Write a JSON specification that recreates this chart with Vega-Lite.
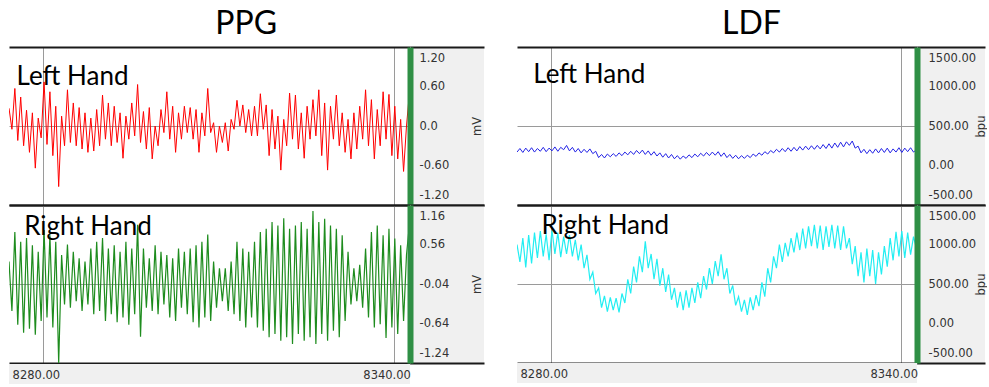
{
"$schema": "https://vega.github.io/schema/vega-lite/v6.json",
"background": "white",
"padding": {"left": 8, "top": 8, "right": 0, "bottom": 0},
"datasets": {
"sig": [
{"t":8274.2,"a":0.27,"b":0.3,"c":170,"d":1000},
{"t":8274.7,"a":-0.05,"b":-0.45,"c":215,"d":780},
{"t":8275.2,"a":0.57,"b":0.75,"c":165,"d":1080},
{"t":8275.7,"a":-0.22,"b":-0.66,"c":220,"d":710},
{"t":8276.2,"a":0.44,"b":0.6,"c":175,"d":1120},
{"t":8276.7,"a":-0.3,"b":-0.78,"c":225,"d":760},
{"t":8277.2,"a":0.24,"b":0.66,"c":170,"d":1150},
{"t":8277.7,"a":-0.4,"b":-0.72,"c":215,"d":830},
{"t":8278.2,"a":0.2,"b":0.55,"c":180,"d":1170},
{"t":8278.7,"a":-0.64,"b":-0.81,"c":230,"d":850},
{"t":8279.2,"a":0.12,"b":0.45,"c":175,"d":1130},
{"t":8279.7,"a":-0.18,"b":-0.6,"c":220,"d":800},
{"t":8280.2,"a":0.67,"b":0.78,"c":185,"d":1180},
{"t":8280.7,"a":-0.28,"b":-0.55,"c":235,"d":880},
{"t":8281.2,"a":0.52,"b":0.7,"c":180,"d":1150},
{"t":8281.7,"a":-0.45,"b":-0.7,"c":230,"d":840},
{"t":8282.2,"a":0.3,"b":0.6,"c":200,"d":1100},
{"t":8282.7,"a":-0.92,"b":-1.24,"c":254,"d":880},
{"t":8283.2,"a":0.15,"b":0.4,"c":185,"d":1120},
{"t":8283.7,"a":-0.3,"b":-0.35,"c":230,"d":850},
{"t":8284.2,"a":0.55,"b":0.56,"c":170,"d":1060},
{"t":8284.7,"a":-0.25,"b":-0.4,"c":215,"d":800},
{"t":8285.2,"a":0.35,"b":0.45,"c":160,"d":1000},
{"t":8285.7,"a":-0.3,"b":-0.3,"c":205,"d":700},
{"t":8286.2,"a":0.28,"b":0.35,"c":165,"d":870},
{"t":8286.7,"a":-0.35,"b":-0.45,"c":210,"d":560},
{"t":8287.2,"a":0.2,"b":0.3,"c":150,"d":650},
{"t":8287.7,"a":-0.4,"b":-0.35,"c":180,"d":380},
{"t":8288.2,"a":0.12,"b":0.5,"c":100,"d":450},
{"t":8288.7,"a":-0.38,"b":-0.5,"c":140,"d":200},
{"t":8289.2,"a":0.25,"b":0.6,"c":95,"d":350},
{"t":8289.7,"a":-0.3,"b":-0.45,"c":145,"d":150},
{"t":8290.2,"a":0.47,"b":0.66,"c":110,"d":330},
{"t":8290.7,"a":-0.2,"b":-0.6,"c":150,"d":170},
{"t":8291.2,"a":0.35,"b":0.5,"c":115,"d":320},
{"t":8291.7,"a":-0.3,"b":-0.5,"c":160,"d":140},
{"t":8292.2,"a":0.3,"b":0.55,"c":125,"d":380},
{"t":8292.7,"a":-0.25,"b":-0.62,"c":170,"d":260},
{"t":8293.2,"a":0.2,"b":0.45,"c":135,"d":560},
{"t":8293.7,"a":-0.49,"b":-0.55,"c":180,"d":380},
{"t":8294.2,"a":0.15,"b":0.6,"c":140,"d":720},
{"t":8294.7,"a":-0.2,"b":-0.66,"c":190,"d":520},
{"t":8295.2,"a":0.35,"b":0.5,"c":150,"d":850},
{"t":8295.7,"a":-0.15,"b":-0.5,"c":195,"d":650},
{"t":8296.2,"a":0.63,"b":0.86,"c":140,"d":1040},
{"t":8296.7,"a":-0.25,"b":-0.84,"c":185,"d":700},
{"t":8297.2,"a":0.22,"b":0.5,"c":130,"d":880},
{"t":8297.7,"a":-0.35,"b":-0.4,"c":175,"d":560},
{"t":8298.2,"a":0.28,"b":0.35,"c":120,"d":820},
{"t":8298.7,"a":-0.5,"b":-0.45,"c":160,"d":480},
{"t":8299.2,"a":0.0,"b":0.55,"c":105,"d":700},
{"t":8299.7,"a":-0.3,"b":-0.5,"c":150,"d":400},
{"t":8300.2,"a":0.25,"b":0.45,"c":95,"d":620},
{"t":8300.7,"a":-0.1,"b":-0.35,"c":140,"d":300},
{"t":8301.2,"a":0.52,"b":0.4,"c":85,"d":450},
{"t":8301.7,"a":-0.2,"b":-0.55,"c":125,"d":200},
{"t":8302.2,"a":0.3,"b":0.35,"c":80,"d":400},
{"t":8302.7,"a":-0.4,"b":-0.6,"c":120,"d":170},
{"t":8303.2,"a":0.2,"b":0.5,"c":90,"d":420},
{"t":8303.7,"a":-0.2,"b":-0.4,"c":135,"d":200},
{"t":8304.2,"a":0.3,"b":0.45,"c":100,"d":450},
{"t":8304.7,"a":-0.1,"b":-0.5,"c":145,"d":260},
{"t":8305.2,"a":0.28,"b":0.5,"c":110,"d":520},
{"t":8305.7,"a":-0.2,"b":-0.62,"c":155,"d":320},
{"t":8306.2,"a":0.25,"b":0.55,"c":120,"d":600},
{"t":8306.7,"a":-0.4,"b":-0.7,"c":165,"d":430},
{"t":8307.2,"a":0.2,"b":0.6,"c":125,"d":700},
{"t":8307.7,"a":-0.15,"b":-0.55,"c":170,"d":500},
{"t":8308.2,"a":0.57,"b":0.71,"c":130,"d":790},
{"t":8308.7,"a":-0.1,"b":-0.6,"c":175,"d":600},
{"t":8309.2,"a":0.05,"b":0.3,"c":115,"d":875},
{"t":8309.7,"a":-0.4,"b":-0.4,"c":160,"d":560},
{"t":8310.2,"a":0.0,"b":0.2,"c":100,"d":700},
{"t":8310.7,"a":-0.25,"b":-0.3,"c":140,"d":380},
{"t":8311.2,"a":0.05,"b":0.2,"c":90,"d":480},
{"t":8311.7,"a":-0.38,"b":-0.45,"c":130,"d":230},
{"t":8312.2,"a":0.1,"b":0.3,"c":85,"d":340},
{"t":8312.7,"a":-0.05,"b":-0.5,"c":125,"d":150},
{"t":8313.2,"a":0.39,"b":0.6,"c":90,"d":300},
{"t":8313.7,"a":0.0,"b":-0.6,"c":130,"d":110},
{"t":8314.2,"a":0.32,"b":0.5,"c":100,"d":330},
{"t":8314.7,"a":-0.1,"b":-0.7,"c":145,"d":170},
{"t":8315.2,"a":0.25,"b":0.45,"c":115,"d":360},
{"t":8315.7,"a":-0.15,"b":-0.55,"c":160,"d":220},
{"t":8316.2,"a":0.3,"b":0.6,"c":130,"d":520},
{"t":8316.7,"a":-0.15,"b":-0.7,"c":175,"d":340},
{"t":8317.2,"a":0.49,"b":0.75,"c":145,"d":700},
{"t":8317.7,"a":-0.05,"b":-0.75,"c":190,"d":520},
{"t":8318.2,"a":0.32,"b":0.8,"c":160,"d":850},
{"t":8318.7,"a":-0.45,"b":-0.85,"c":205,"d":700},
{"t":8319.2,"a":0.25,"b":0.9,"c":170,"d":1000},
{"t":8319.7,"a":-0.35,"b":-0.8,"c":215,"d":780},
{"t":8320.2,"a":0.15,"b":0.85,"c":175,"d":1020},
{"t":8320.7,"a":-0.67,"b":-0.9,"c":225,"d":850},
{"t":8321.2,"a":0.1,"b":0.96,"c":180,"d":1080},
{"t":8321.7,"a":-0.3,"b":-0.85,"c":230,"d":900},
{"t":8322.2,"a":0.5,"b":0.8,"c":185,"d":1150},
{"t":8322.7,"a":-0.2,"b":-0.95,"c":240,"d":930},
{"t":8323.2,"a":0.47,"b":0.85,"c":195,"d":1200},
{"t":8323.7,"a":-0.35,"b":-0.8,"c":245,"d":950},
{"t":8324.2,"a":0.2,"b":0.9,"c":200,"d":1230},
{"t":8324.7,"a":-0.49,"b":-0.9,"c":250,"d":980},
{"t":8325.2,"a":0.3,"b":0.8,"c":205,"d":1250},
{"t":8325.7,"a":-0.2,"b":-0.85,"c":255,"d":950},
{"t":8326.2,"a":0.4,"b":1.07,"c":210,"d":1240},
{"t":8326.7,"a":-0.15,"b":-0.95,"c":265,"d":930},
{"t":8327.2,"a":0.55,"b":0.9,"c":215,"d":1230},
{"t":8327.7,"a":-0.45,"b":-0.8,"c":275,"d":970},
{"t":8328.2,"a":0.35,"b":0.95,"c":220,"d":1250},
{"t":8328.7,"a":-0.67,"b":-0.9,"c":285,"d":950},
{"t":8329.2,"a":0.3,"b":0.85,"c":230,"d":1240},
{"t":8329.7,"a":-0.2,"b":-0.75,"c":295,"d":930},
{"t":8330.2,"a":0.47,"b":0.8,"c":235,"d":1230},
{"t":8330.7,"a":-0.3,"b":-0.85,"c":300,"d":950},
{"t":8331.2,"a":0.2,"b":0.7,"c":255,"d":1080},
{"t":8331.7,"a":-0.4,"b":-0.6,"c":310,"d":750},
{"t":8332.2,"a":0.1,"b":0.45,"c":220,"d":980},
{"t":8332.7,"a":-0.5,"b":-0.35,"c":245,"d":600},
{"t":8333.2,"a":0.2,"b":0.2,"c":160,"d":900},
{"t":8333.7,"a":-0.35,"b":-0.3,"c":205,"d":520},
{"t":8334.2,"a":0.3,"b":0.25,"c":150,"d":950},
{"t":8334.7,"a":-0.2,"b":-0.4,"c":200,"d":600},
{"t":8335.2,"a":0.55,"b":0.5,"c":155,"d":930},
{"t":8335.7,"a":-0.3,"b":-0.55,"c":210,"d":500},
{"t":8336.2,"a":0.4,"b":0.75,"c":160,"d":900},
{"t":8336.7,"a":-0.5,"b":-0.7,"c":215,"d":620},
{"t":8337.2,"a":0.25,"b":0.85,"c":165,"d":980},
{"t":8337.7,"a":-0.3,"b":-0.65,"c":220,"d":720},
{"t":8338.2,"a":0.52,"b":0.7,"c":160,"d":1080},
{"t":8338.7,"a":-0.2,"b":-0.86,"c":210,"d":800},
{"t":8339.2,"a":0.48,"b":0.8,"c":170,"d":1160},
{"t":8339.7,"a":-0.45,"b":-0.7,"c":225,"d":850},
{"t":8340.2,"a":0.3,"b":0.65,"c":165,"d":1170},
{"t":8340.7,"a":-0.5,"b":-0.8,"c":220,"d":830},
{"t":8341.2,"a":0.1,"b":0.55,"c":175,"d":1150},
{"t":8341.7,"a":-0.69,"b":-0.6,"c":225,"d":870},
{"t":8342.2,"a":0.0,"b":0.4,"c":170,"d":1100},
{"t":8342.7,"a":0.5,"b":0.86,"c":200,"d":950}
]
},
"hconcat": [
{
"title": {"text": "PPG", "anchor": "middle", "font": "Lato", "fontSize": 32, "fontWeight": "normal", "color": "black", "offset": 6},
"spacing": 0,
"vconcat": [
{"spacing": 0, "hconcat": [
{"width": 401, "height": 158, "view": {"stroke": null},
"layer": [
{"data": {"name": "sig"}, "mark": {"type": "line", "color": "#ff0000", "strokeWidth": 1, "clip": true},
"encoding": {
"x": {"field": "t", "type": "quantitative", "scale": {"domain": [8274.2, 8342.8], "nice": false, "zero": false}, "axis": {"values": [8280, 8340], "labels": false, "ticks": false, "domain": false, "grid": true, "gridColor": "#9a9a9a", "gridWidth": 1, "title": null}},
"y": {"field": "a", "type": "quantitative", "scale": {"domain": [-1.2, 1.2], "nice": false, "zero": false}, "axis": {"orient": "right", "values": [1.2, 0.6, 0, -0.6, -1.2], "labels": false, "ticks": false, "domain": false, "grid": true, "gridColor": {"condition": {"test": "abs(datum.value) > 1.1", "value": "#1a1a1a"}, "value": "#9a9a9a"}, "gridWidth": {"condition": {"test": "abs(datum.value) > 1.1", "value": 2}, "value": 1}, "title": null}}
}},
{"data": {"values": [{"label": "Left Hand"}]}, "mark": {"type": "text", "align": "left", "baseline": "alphabetic", "font": "Lato", "fontSize": 26, "color": "#000000"},
"encoding": {"x": {"datum": 8275.5}, "y": {"datum": 0.63}, "text": {"field": "label"}}}
]},
{"width": 74, "height": 158, "view": {"stroke": null, "fill": "#f0f0f0"}, "data": {"name": "sig"}, "mark": {"type": "tick", "opacity": 0},
"encoding": {"y": {"field": "a", "type": "quantitative", "scale": {"domain": [-1.2, 1.2], "nice": false, "zero": false},
"axis": {"orient": "left", "values": [1.2, 0.6, 0, -0.6, -1.2], "labelExpr": "datum.value == 0 ? '0.0' : (datum.value < 0 ? '-' : '') + format(abs(datum.value), '.2f')", "labelAlign": "left", "labelPadding": -9, "labelFlush": true, "labelFlushOffset": -5, "ticks": false, "domain": true, "domainColor": "#2f8f45", "domainWidth": 6, "grid": true, "gridColor": {"condition": {"test": "abs(datum.value) > 1.1", "value": "#1a1a1a"}, "value": "transparent"}, "gridWidth": 2, "title": "mV", "titleX": 67, "titleY": 79, "titleAngle": 270, "titleAlign": "center", "titleBaseline": "middle"}}}}
]},
{"spacing": 0, "hconcat": [
{"width": 401, "height": 158, "view": {"stroke": null},
"layer": [
{"data": {"name": "sig"}, "mark": {"type": "line", "color": "#1e8c1e", "strokeWidth": 1.2, "clip": true},
"encoding": {
"x": {"field": "t", "type": "quantitative", "scale": {"domain": [8274.2, 8342.8], "nice": false, "zero": false}, "axis": {"values": [8280, 8340], "labels": false, "ticks": false, "domain": false, "grid": true, "gridColor": "#9a9a9a", "gridWidth": 1, "title": null}},
"y": {"field": "b", "type": "quantitative", "scale": {"domain": [-1.24, 1.16], "nice": false, "zero": false}, "axis": {"orient": "right", "values": [1.16, 0.56, -0.04, -0.64, -1.24], "labels": false, "ticks": false, "domain": false, "grid": true, "gridColor": {"condition": {"test": "datum.value > 1.1 || datum.value < -1.2", "value": "#1a1a1a"}, "value": "#9a9a9a"}, "gridWidth": {"condition": {"test": "datum.value > 1.1 || datum.value < -1.2", "value": 2}, "value": 1}, "title": null}}
}},
{"data": {"values": [{"label": "Right Hand"}]}, "mark": {"type": "text", "align": "left", "baseline": "alphabetic", "font": "Lato", "fontSize": 26, "color": "#000000"},
"encoding": {"x": {"datum": 8276.8}, "y": {"datum": 0.71}, "text": {"field": "label"}}}
]},
{"width": 74, "height": 158, "view": {"stroke": null, "fill": "#f0f0f0"}, "data": {"name": "sig"}, "mark": {"type": "tick", "opacity": 0},
"encoding": {"y": {"field": "b", "type": "quantitative", "scale": {"domain": [-1.24, 1.16], "nice": false, "zero": false},
"axis": {"orient": "left", "values": [1.16, 0.56, -0.04, -0.64, -1.24], "labelExpr": "(datum.value < 0 ? '-' : '') + format(abs(datum.value), '.2f')", "labelAlign": "left", "labelPadding": -9, "labelFlush": true, "labelFlushOffset": -5, "ticks": false, "domain": true, "domainColor": "#2f8f45", "domainWidth": 6, "grid": true, "gridColor": {"condition": {"test": "datum.value > 1.1 || datum.value < -1.2", "value": "#1a1a1a"}, "value": "transparent"}, "gridWidth": 2, "title": "mV", "titleX": 67, "titleY": 79, "titleAngle": 270, "titleAlign": "center", "titleBaseline": "middle"}}}}
]},
{"width": 401, "height": 20, "view": {"stroke": null, "fill": "#f0f0f0"}, "data": {"name": "sig"}, "mark": {"type": "tick", "opacity": 0},
"encoding": {"x": {"field": "t", "type": "quantitative", "scale": {"domain": [8274.2, 8342.8], "nice": false, "zero": false},
"axis": {"orient": "bottom", "values": [8280, 8340], "format": ".2f", "labelPadding": -15, "labelOffset": -7, "labelFlush": false, "ticks": false, "domain": false, "grid": false, "title": null}}}}
]
},
{
"title": {"text": "LDF", "anchor": "middle", "font": "Lato", "fontSize": 32, "fontWeight": "normal", "color": "black", "offset": 6},
"spacing": 0,
"vconcat": [
{"spacing": 0, "hconcat": [
{"width": 400, "height": 158, "view": {"stroke": null},
"layer": [
{"data": {"name": "sig"}, "mark": {"type": "line", "color": "#2323e6", "strokeWidth": 1, "clip": true},
"encoding": {
"x": {"field": "t", "type": "quantitative", "scale": {"domain": [8274.2, 8342.8], "nice": false, "zero": false}, "axis": {"values": [8280, 8340], "labels": false, "ticks": false, "domain": false, "grid": true, "gridColor": "#9a9a9a", "gridWidth": 1, "title": null}},
"y": {"field": "c", "type": "quantitative", "scale": {"domain": [-500, 1500], "nice": false, "zero": false}, "axis": {"orient": "right", "values": [1500, 1000, 500, 0, -500], "labels": false, "ticks": false, "domain": false, "grid": true, "gridColor": {"condition": {"test": "abs(datum.value - 500) > 900", "value": "#1a1a1a"}, "value": "#9a9a9a"}, "gridWidth": {"condition": {"test": "abs(datum.value - 500) > 900", "value": 2}, "value": 1}, "title": null}}
}},
{"data": {"values": [{"label": "Left Hand"}]}, "mark": {"type": "text", "align": "left", "baseline": "alphabetic", "font": "Lato", "fontSize": 26, "color": "#000000"},
"encoding": {"x": {"datum": 8277.0}, "y": {"datum": 1047}, "text": {"field": "label"}}}
]},
{"width": 68, "height": 158, "view": {"stroke": null, "fill": "#f0f0f0"}, "data": {"name": "sig"}, "mark": {"type": "tick", "opacity": 0},
"encoding": {"y": {"field": "c", "type": "quantitative", "scale": {"domain": [-500, 1500], "nice": false, "zero": false},
"axis": {"orient": "left", "values": [1500, 1000, 500, 0, -500], "labelExpr": "(datum.value < 0 ? '-' : '') + format(abs(datum.value), '.2f')", "labelAlign": "left", "labelPadding": -11, "labelFlush": true, "labelFlushOffset": -5, "ticks": false, "domain": true, "domainColor": "#2f8f45", "domainWidth": 6, "grid": true, "gridColor": {"condition": {"test": "abs(datum.value - 500) > 900", "value": "#1a1a1a"}, "value": "transparent"}, "gridWidth": 2, "title": "bpu", "titleX": 64, "titleY": 79, "titleAngle": 270, "titleAlign": "center", "titleBaseline": "middle"}}}}
]},
{"spacing": 0, "hconcat": [
{"width": 400, "height": 158, "view": {"stroke": null},
"layer": [
{"data": {"name": "sig"}, "mark": {"type": "line", "color": "#22eef2", "strokeWidth": 1.2, "clip": true},
"encoding": {
"x": {"field": "t", "type": "quantitative", "scale": {"domain": [8274.2, 8342.8], "nice": false, "zero": false}, "axis": {"values": [8280, 8340], "labels": false, "ticks": false, "domain": false, "grid": true, "gridColor": "#9a9a9a", "gridWidth": 1, "title": null}},
"y": {"field": "d", "type": "quantitative", "scale": {"domain": [-500, 1500], "nice": false, "zero": false}, "axis": {"orient": "right", "values": [1500, 1000, 500, 0, -500], "labels": false, "ticks": false, "domain": false, "grid": true, "gridColor": {"condition": {"test": "abs(datum.value - 500) > 900", "value": "#1a1a1a"}, "value": "#9a9a9a"}, "gridWidth": {"condition": {"test": "abs(datum.value - 500) > 900", "value": 2}, "value": 1}, "title": null}}
}},
{"data": {"values": [{"label": "Right Hand"}]}, "mark": {"type": "text", "align": "left", "baseline": "alphabetic", "font": "Lato", "fontSize": 26, "color": "#000000"},
"encoding": {"x": {"datum": 8278.4}, "y": {"datum": 1135}, "text": {"field": "label"}}}
]},
{"width": 68, "height": 158, "view": {"stroke": null, "fill": "#f0f0f0"}, "data": {"name": "sig"}, "mark": {"type": "tick", "opacity": 0},
"encoding": {"y": {"field": "d", "type": "quantitative", "scale": {"domain": [-500, 1500], "nice": false, "zero": false},
"axis": {"orient": "left", "values": [1500, 1000, 500, 0, -500], "labelExpr": "(datum.value < 0 ? '-' : '') + format(abs(datum.value), '.2f')", "labelAlign": "left", "labelPadding": -11, "labelFlush": true, "labelFlushOffset": -5, "ticks": false, "domain": true, "domainColor": "#2f8f45", "domainWidth": 6, "grid": true, "gridColor": {"condition": {"test": "abs(datum.value - 500) > 900", "value": "#1a1a1a"}, "value": "transparent"}, "gridWidth": 2, "title": "bpu", "titleX": 64, "titleY": 79, "titleAngle": 270, "titleAlign": "center", "titleBaseline": "middle"}}}}
]},
{"width": 400, "height": 20, "view": {"stroke": null, "fill": "#f0f0f0"}, "data": {"name": "sig"}, "mark": {"type": "tick", "opacity": 0},
"encoding": {"x": {"field": "t", "type": "quantitative", "scale": {"domain": [8274.2, 8342.8], "nice": false, "zero": false},
"axis": {"orient": "bottom", "values": [8280, 8340], "format": ".2f", "labelPadding": -15, "labelOffset": -7, "labelFlush": false, "ticks": false, "domain": false, "grid": false, "title": null}}}}
]
}
],
"spacing": 32,
"config": {
"view": {"stroke": null},
"axis": {"labelFont": "DejaVu Sans", "labelFontSize": 11.5, "labelColor": "#333333", "titleFont": "DejaVu Sans", "titleFontSize": 11.5, "titleFontWeight": "normal", "titleColor": "#333333"},
"title": {"font": "Lato", "fontSize": 32, "fontWeight": "normal", "color": "black"}
}
}
